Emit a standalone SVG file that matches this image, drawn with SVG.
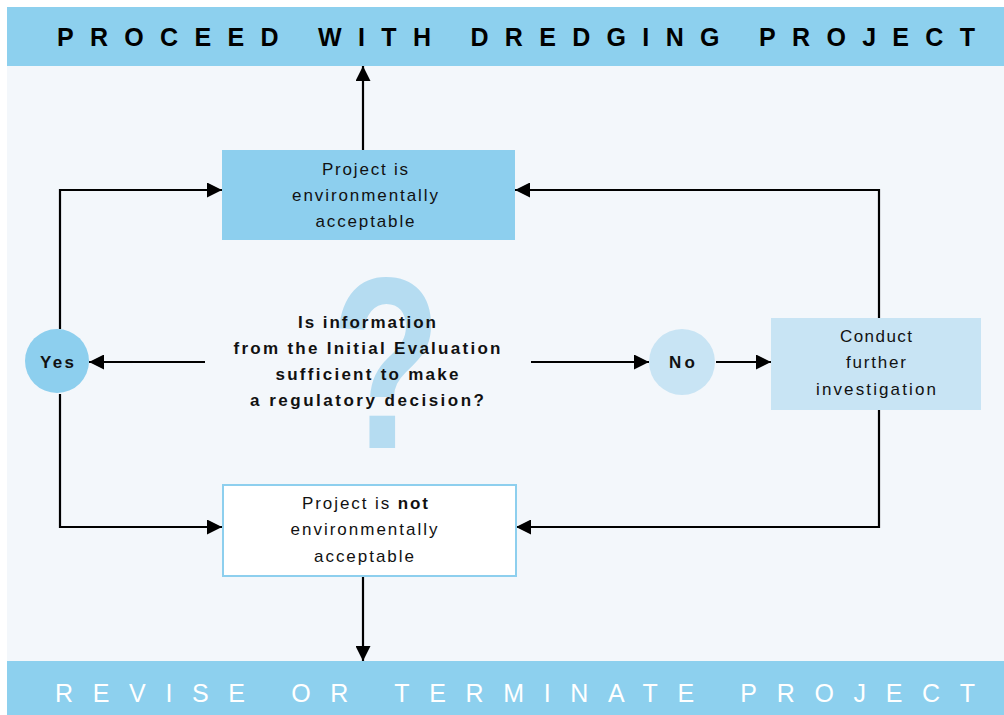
<svg xmlns="http://www.w3.org/2000/svg" width="1004" height="715" viewBox="0 0 1004 715">
<style>
.t{font-family:"Liberation Sans Narrow","Liberation Sans",Arial,sans-serif;font-size:17px;fill:#111;text-anchor:middle}
.b{font-weight:bold}
.ban{font-family:"Liberation Sans Narrow","Liberation Sans",Arial,sans-serif;font-size:25px}
.q{font-family:"Liberation Sans Narrow","Liberation Sans",Arial,sans-serif;font-weight:bold;font-size:245px;fill:#b5dcf1;text-anchor:middle}
.ln{stroke:#000;stroke-width:2.2;fill:none;marker-end:url(#ah)}
</style>
<defs>
<marker id="ah" viewBox="0 0 14 14" refX="14" refY="7" markerWidth="15" markerHeight="15" markerUnits="userSpaceOnUse" orient="auto">
<path d="M0,0 L14,7 L0,14 Z" fill="#000"/>
</marker>
</defs>
<rect x="0" y="0" width="1004" height="715" fill="#ffffff"/>
<rect x="7" y="7" width="997" height="708" fill="#f3f7fb"/>
<g id="banner-top">
<rect x="7" y="7" width="997" height="59" fill="#8dd0ee"/>
<text class="ban b" x="57" y="46" fill="#000" textLength="918" lengthAdjust="spacing">PROCEED WITH DREDGING PROJECT</text>
</g>
<g id="banner-bottom">
<rect x="7" y="661" width="997" height="54" fill="#8dd0ee"/>
<text class="ban" x="55" y="702" fill="#fff" textLength="920" lengthAdjust="spacing">REVISE OR TERMINATE PROJECT</text>
</g>
<g id="question">
<text class="q" x="0" y="448" transform="translate(386,0) scale(0.74,1)">?</text>
<text class="t b" x="367" y="328" textLength="138" lengthAdjust="spacing">Is information</text>
<text class="t b" x="367" y="354" textLength="267" lengthAdjust="spacing">from the Initial Evaluation</text>
<text class="t b" x="367" y="380" textLength="183" lengthAdjust="spacing">sufficient to make</text>
<text class="t b" x="367" y="406" textLength="234" lengthAdjust="spacing">a regulatory decision?</text>
</g>
<g id="connectors">
<path class="ln" d="M363,150 L363,66"/>
<path class="ln" d="M363,576 L363,661"/>
<path class="ln" d="M205,362 L89,362"/>
<path class="ln" d="M531,362 L649,362"/>
<path class="ln" d="M716,362 L771,362"/>
<path class="ln" d="M60,329 L60,190 L222,190"/>
<path class="ln" d="M60,394 L60,527 L222,527"/>
<path class="ln" d="M879,318 L879,190 L515,190"/>
<path class="ln" d="M879,410 L879,527 L516,527"/>
</g>
<g id="node-acceptable">
<rect x="222" y="150" width="293" height="90" fill="#8dcfee"/>
<text class="t" x="365" y="175" textLength="86" lengthAdjust="spacing">Project is</text>
<text class="t" x="365" y="201" textLength="146" lengthAdjust="spacing">environmentally</text>
<text class="t" x="365" y="227" textLength="99" lengthAdjust="spacing">acceptable</text>
</g>
<g id="node-not-acceptable">
<rect x="223" y="485" width="293" height="91" fill="#ffffff" stroke="#8dcfee" stroke-width="2"/>
<text class="t" x="365" y="509" textLength="126" lengthAdjust="spacing">Project is <tspan font-weight="bold">not</tspan></text>
<text class="t" x="364" y="535" textLength="147" lengthAdjust="spacing">environmentally</text>
<text class="t" x="364" y="562" textLength="100" lengthAdjust="spacing">acceptable</text>
</g>
<g id="node-conduct">
<rect x="771" y="318" width="210" height="92" fill="#c8e4f4"/>
<text class="t" x="876" y="342" textLength="72" lengthAdjust="spacing">Conduct</text>
<text class="t" x="876" y="368" textLength="60" lengthAdjust="spacing">further</text>
<text class="t" x="876" y="395" textLength="120" lengthAdjust="spacing">investigation</text>
</g>
<g id="node-yes">
<circle cx="57" cy="361" r="32" fill="#8dcfee"/>
<text class="t b" x="57" y="368" textLength="34" lengthAdjust="spacing">Yes</text>
</g>
<g id="node-no">
<circle cx="682" cy="362" r="33" fill="#c8e4f4"/>
<text class="t b" x="682" y="368" textLength="26" lengthAdjust="spacing">No</text>
</g>
</svg>
